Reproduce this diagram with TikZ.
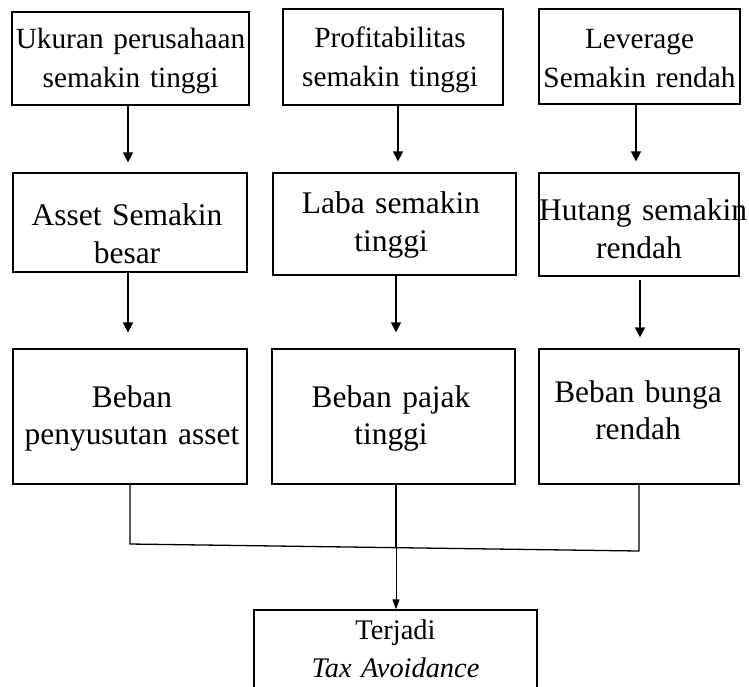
\documentclass[tikz,border=0pt]{standalone}
\usepackage{fontspec}
\setmainfont{Liberation Serif}
\usetikzlibrary{arrows.meta}
\begin{document}
\begin{tikzpicture}[x=1pt,y=-1pt,
  box/.style={draw, line width=1.3pt, inner sep=0pt},
  rowa/.style={align=center, inner sep=0pt, font=\fontsize{29.3}{39}\selectfont},
  rowb/.style={align=center, inner sep=0pt, font=\fontsize{31.5}{38}\selectfont},
  rowc/.style={align=center, inner sep=0pt, font=\fontsize{31.4}{37}\selectfont},
  rowd/.style={align=center, inner sep=0pt, font=\fontsize{28.4}{38}\selectfont},
  arr/.style={line width=1.3pt, -{Triangle[length=10pt,width=10pt]}},
  conn/.style={line width=1.3pt},
  thinarr/.style={line width=0.9pt, -{Triangle[length=10pt,width=7pt]}}
]
\useasboundingbox (0,0) rectangle (749,686);
% row 1
\node[box, minimum width=237pt, minimum height=93pt] (A) at (130.5,58.5) {};
\node[box, minimum width=220pt, minimum height=96pt] (B) at (393,57) {};
\node[box, minimum width=201pt, minimum height=95pt] (C) at (639.5,56.5) {};
\node[rowa, text width=237pt] (At) at (130.5,61) {Ukuran perusahaan\\semakin tinggi};
\node[rowa, text width=220pt] (Bt) at (390,60) {Profitabilitas\\semakin tinggi};
\node[rowa, text width=201pt] (Ct) at (639.5,59) {Leverage\\Semakin rendah};
% row 2
\node[box, minimum width=234pt, minimum height=99pt] (D) at (130,222.5) {};
\node[box, minimum width=243pt, minimum height=102pt] (E) at (394.5,224) {};
\node[box, minimum width=200pt, minimum height=103pt] (F) at (639,224.5) {};
\node[rowb, text width=234pt] (Dt) at (127,234) {Asset Semakin\\besar};
\node[rowb, text width=243pt] (Et) at (391,225) {Laba semakin\\tinggi};
\node[rowb, text width=200pt] (Ft) at (639,229) {\mbox{Hutang semakin}\\rendah};
% row 3
\node[box, minimum width=234pt, minimum height=135pt] (G) at (130,416.5) {};
\node[box, minimum width=243pt, minimum height=135pt] (H) at (393.5,416.5) {};
\node[box, minimum width=200pt, minimum height=135pt] (I) at (639,416.5) {};
\node[rowc, text width=234pt] (Gt) at (132,418) {Beban\\penyusutan asset};
\node[rowc, text width=243pt] (Ht) at (391,418) {Beban pajak\\tinggi};
\node[rowc, text width=200pt] (It) at (638,410) {Beban bunga\\rendah};
% bottom
\node[box, minimum width=283pt, minimum height=90pt] (T) at (395.5,655) {};
\node[rowd, text width=283pt] (Tt) at (395.5,649) {Terjadi\\\textit{Tax Avoidance}};
% arrows
\draw[arr, shorten >=10pt] ([xshift=-2.5pt]A.south) -- ([xshift=-2.5pt]A.south |- D.north);
\draw[arr, shorten >=11pt] ([xshift=5pt]B.south) -- ([xshift=5pt]B.south |- E.north);
\draw[arr, shorten >=11pt] ([xshift=-3.5pt]C.south) -- ([xshift=-3.5pt]C.south |- F.north);
\draw[arr, shorten >=16pt] ([xshift=-2pt]D.south) -- ([xshift=-2pt]D.south |- G.north);
\draw[arr, shorten >=16pt] ([xshift=1.5pt]E.south) -- ([xshift=1.5pt]E.south |- H.north);
\draw[arr, shorten <=3pt, shorten >=11pt] ([xshift=1pt]F.south) -- ([xshift=1pt]F.south |- I.north);
% joining lines
\coordinate (jl) at (130,544);
\coordinate (jr) at (639,551);
\coordinate (jm) at (396,547.5);
\draw[conn] (G.south) -- (jl) -- (jr) -- (I.south);
\draw[conn] ([xshift=2.5pt]H.south) -- (jm);
\draw[thinarr] (jm) -- (jm |- T.north);
\end{tikzpicture}
\end{document}
